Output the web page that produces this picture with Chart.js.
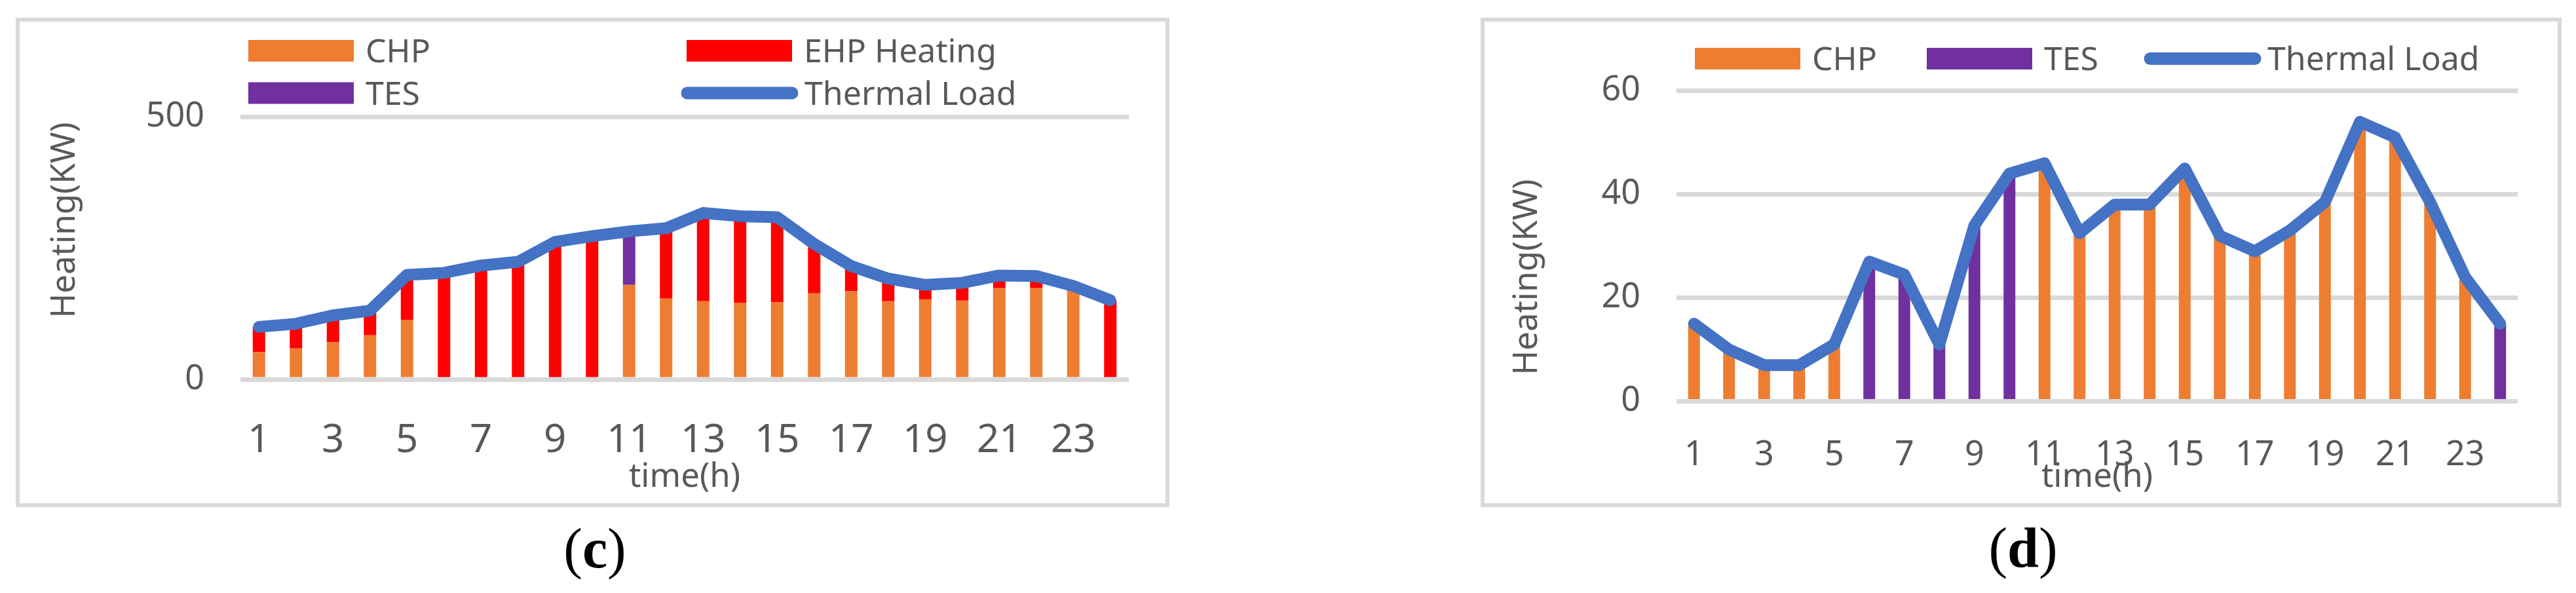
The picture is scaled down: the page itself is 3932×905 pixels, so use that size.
<!DOCTYPE html>
<html lang="en">
<head>
<meta charset="UTF-8">
<title>Heating dispatch (c) and (d)</title>
<script src="https://cdn.jsdelivr.net/npm/chart.js@4.4.1/dist/chart.umd.min.js"></script>
<style>
    body {
        margin: 0;
        width: 3932px;
        height: 905px;
        background: #fff;
        position: relative;
        overflow: hidden;
    }

    .box {
        position: absolute;
        border: 6px solid #d9d9d9;
        background: #fff;
    }

    #boxC { left: 24px; top: 27px; width: 1749px; height: 735px; }
    #boxD { left: 2260px; top: 27px; width: 1638px; height: 735px; }

    .box canvas { display: block; }

    .cap {
        position: absolute;
        width: 200px;
        text-align: center;
        font-family: 'Liberation Serif', 'Times New Roman', serif;
        font-size: 86px;
        line-height: 1;
        color: #000;
    }

    #capC { left: 808px; top: 794px; }
    #capD { left: 2988px; top: 793px; }
</style>
</head>
<body>
<div class="box" id="boxC"><canvas id="chartC" width="1749" height="735"></canvas></div>
<div class="box" id="boxD"><canvas id="chartD" width="1638" height="735"></canvas></div>
<div class="cap" id="capC">(<b>c</b>)</div>
<div class="cap" id="capD">(<b>d</b>)</div>

<script>
    // hours on the x axis
    const hours = ['1', '2', '3', '4', '5', '6', '7', '8', '9', '10', '11', '12',
        '13', '14', '15', '16', '17', '18', '19', '20', '21', '22', '23', '24'];

    // panel (c), kW
    const chpC = [52, 59, 71, 84, 113, 0, 0, 0, 0, 0, 180, 154, 149, 146, 147, 164, 168, 149, 152, 150, 174, 174, 169, 0];
    const ehpC = [48, 47, 51, 47, 86, 203, 217, 224, 262, 273, 0, 134, 168, 165, 162, 94, 48, 43, 28, 34, 24, 23, 9, 151];
    const tesC = [0, 0, 0, 0, 0, 0, 0, 0, 0, 0, 102, 0, 0, 0, 0, 0, 0, 0, 0, 0, 0, 0, 0, 0];
    const loadC = [100, 106, 122, 131, 199, 203, 217, 224, 262, 273, 282, 288, 317, 311, 309, 258, 216, 192, 180, 184, 198, 197, 178, 151];

    // panel (d), kW
    const chpD = [15, 10, 7, 7, 11, 0, 0, 0, 0, 0, 46, 32.5, 38, 38, 45, 32, 29, 33, 38.5, 54, 51, 38.5, 24, 0];
    const tesD = [0, 0, 0, 0, 0, 27, 24.5, 11, 34, 44, 0, 0, 0, 0, 0, 0, 0, 0, 0, 0, 0, 0, 0, 15];
    const loadD = [15, 10, 7, 7, 11, 27, 24.5, 11, 34, 44, 46, 32.5, 38, 38, 45, 32, 29, 33, 38.5, 54, 51, 38.5, 24, 15];

    const gray = '#595959';
    const gridGray = '#d9d9d9';
    const orange = '#ed7d31';
    const red = '#ff0000';
    const purple = '#7030a0';
    const blue = '#4472c4';

    Chart.defaults.font.family = "'Noto Sans', sans-serif";
    Chart.defaults.color = gray;

    // excel style legend and axis titles, drawn at fixed spots
    const decor = {
        id: 'decor',
        afterDraw(chart, args, o) {
            const ctx = chart.ctx;
            const area = chart.chartArea;
            ctx.save();
            ctx.font = o.legendSize + "px 'Noto Sans'";
            ctx.textBaseline = 'alphabetic';
            ctx.textAlign = 'left';
            o.legend.forEach(it => {
                const ds = chart.data.datasets[it.i];
                if (ds.type === 'line') {
                    ctx.strokeStyle = ds.borderColor;
                    ctx.lineWidth = 19;
                    ctx.lineCap = 'round';
                    ctx.beginPath();
                    ctx.moveTo(it.x, it.y);
                    ctx.lineTo(it.x + 160, it.y);
                    ctx.stroke();
                } else {
                    ctx.fillStyle = ds.backgroundColor;
                    ctx.fillRect(it.x, it.y - 16.5, 161, 33);
                }
                ctx.fillStyle = gray;
                ctx.fillText(ds.label, it.x + 179, it.y + 0.357 * o.legendSize);
            });

            ctx.fillStyle = gray;
            ctx.font = o.titleSize + "px 'Noto Sans'";
            ctx.textAlign = 'center';
            ctx.fillText(chart.options.scales.x.title.text, (area.left + area.right) / 2, o.xTitleY);

            ctx.translate(o.yTitle.x, o.yTitle.y);
            ctx.rotate(-Math.PI / 2);
            ctx.fillText(chart.options.scales.y.title.text, 0, 0.357 * o.titleSize);
            ctx.restore();
        }
    };

    function barSet(label, data, color) {
        return {
            type: 'bar',
            label: label,
            data: data,
            backgroundColor: color,
            borderWidth: 0,
            stack: 'gen',
            order: 1,
            barPercentage: 0.336,
            categoryPercentage: 1
        };
    }

    function loadSet(data) {
        return {
            type: 'line',
            label: 'Thermal Load',
            data: data,
            borderColor: blue,
            backgroundColor: blue,
            borderWidth: 18,
            borderCapStyle: 'round',
            borderJoinStyle: 'round',
            pointRadius: 0,
            tension: 0,
            stack: 'load',
            order: 0
        };
    }

    function makeOptions(p) {
        return {
            responsive: false,
            animation: false,
            layout: { padding: { left: 0, right: p.right, top: p.top, bottom: 0 } },
            plugins: {
                legend: { display: false },
                tooltip: { enabled: false },
                decor: p.decor
            },
            scales: {
                x: {
                    stacked: true,
                    grid: { display: false },
                    border: { display: false },
                    title: { display: false, text: 'time(h)' },
                    ticks: {
                        autoSkip: false,
                        maxRotation: 0,
                        padding: p.xPad,
                        font: { size: p.xFont },
                        color: gray,
                        callback: (v, i) => (i % 2 === 0 ? hours[i] : '')
                    },
                    afterFit: s => { s.height = p.xHeight; }
                },
                y: {
                    stacked: true,
                    min: 0,
                    max: p.max,
                    grid: { color: gridGray, lineWidth: 7, drawTicks: false },
                    border: { display: false },
                    title: { display: false, text: 'Heating(KW)' },
                    ticks: {
                        stepSize: p.step,
                        padding: 55,
                        font: { size: 52 },
                        color: gray
                    },
                    afterFit: s => { s.width = p.yWidth; }
                }
            }
        };
    }

    new Chart(document.getElementById('chartC'), {
        type: 'bar',
        data: {
            labels: hours,
            datasets: [
                barSet('CHP', chpC, orange),
                barSet('EHP Heating', ehpC, red),
                barSet('TES', tesC, purple),
                loadSet(loadC)
            ]
        },
        options: makeOptions({
            right: 56, top: 145.5, xHeight: 189, yWidth: 337,
            max: 500, step: 500, xFont: 60, xPad: 50,
            decor: {
                legendSize: 50, titleSize: 51, xTitleY: 710,
                yTitle: { x: 66, y: 303 },
                legend: [
                    { i: 0, x: 349, y: 44.5 },
                    { i: 1, x: 1018, y: 44.5 },
                    { i: 2, x: 349, y: 109 },
                    { i: 3, x: 1019, y: 109 }
                ]
            }
        }),
        plugins: [decor]
    });

    new Chart(document.getElementById('chartD'), {
        type: 'bar',
        data: {
            labels: hours,
            datasets: [
                barSet('CHP', chpD, orange),
                barSet('TES', tesD, purple),
                loadSet(loadD)
            ]
        },
        options: makeOptions({
            right: 61, top: 105.5, xHeight: 155.5, yWidth: 293,
            max: 60, step: 20, xFont: 52, xPad: 43,
            decor: {
                legendSize: 50, titleSize: 51, xTitleY: 710,
                yTitle: { x: 62, y: 390 },
                legend: [
                    { i: 0, x: 321, y: 56.5 },
                    { i: 1, x: 675, y: 56.5 },
                    { i: 2, x: 1016, y: 56.5 }
                ]
            }
        }),
        plugins: [decor]
    });
</script>
</body>
</html>
